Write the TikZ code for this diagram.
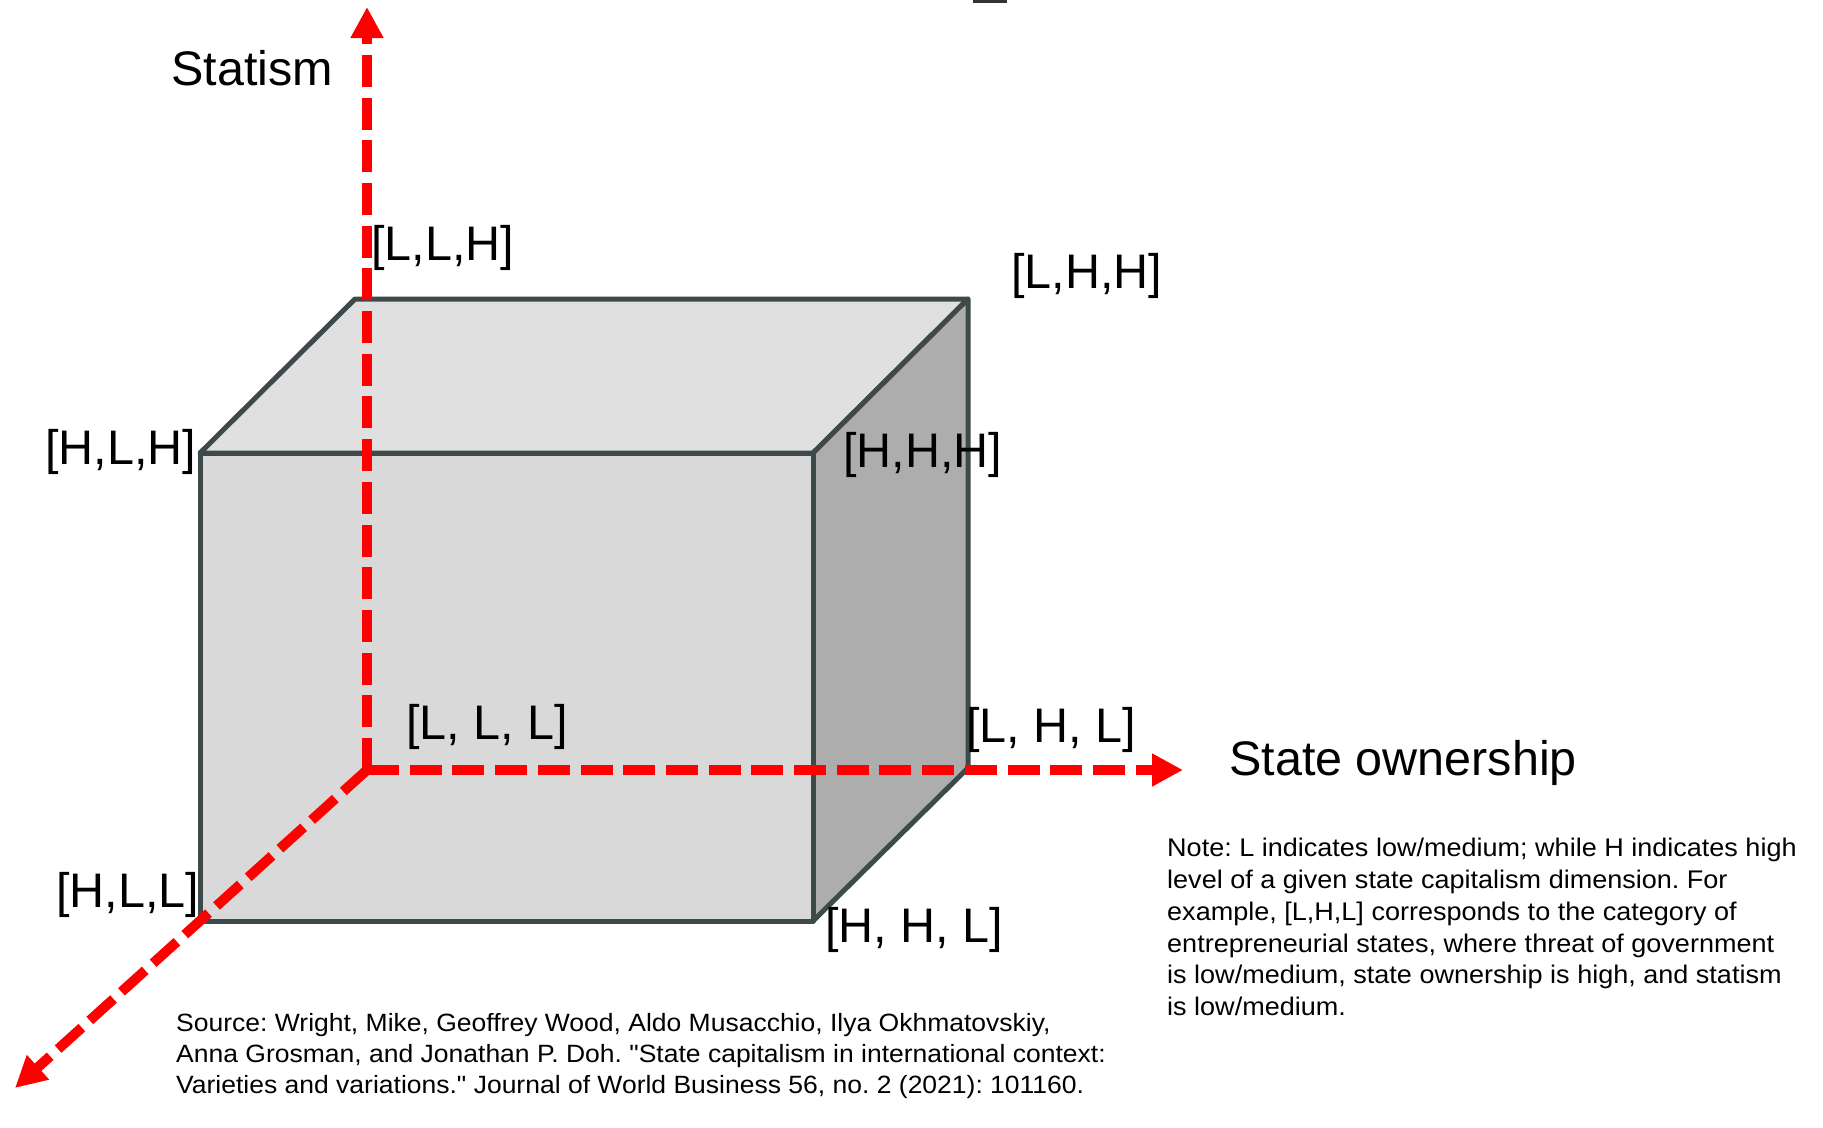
\documentclass[tikz,border=0pt]{standalone}
\usepackage{fontspec}
\setmainfont{Liberation Sans}
\newfontfamily\notefont[FakeStretch=1.06]{Liberation Sans}
\usetikzlibrary{arrows.meta}
\definecolor{edgegray}{HTML}{3E4A4A}
\definecolor{frontgray}{HTML}{D9D9D9}
\definecolor{topgray}{HTML}{E0E0E0}
\definecolor{sidegray}{HTML}{ADADAD}
\definecolor{axisred}{HTML}{FF0000}
\frenchspacing

\begin{document}
\begin{tikzpicture}[x=1pt,y=-1pt,
  face/.style={draw=edgegray, line width=5pt, line join=round},
  axis/.style={draw=axisred, line width=10pt, dash pattern=on 32pt off 10.7pt,
    -{Triangle[length=31pt,width=31pt]}},
  corner/.style={inner sep=0pt, anchor=base west, font=\fontsize{48.5}{58}\selectfont},
  axislabel/.style={inner sep=0pt, anchor=base west, font=\fontsize{48.5}{58}\selectfont},
  textblock/.style={inner sep=0pt, anchor=north west, align=left}
]
\useasboundingbox (0,0) rectangle (1823,1127);
\fill[white] (0,0) rectangle (1823,1127);

% small mark at the top edge
\fill[black!80] (973,0) rectangle (1007,2.5);

% cube corners
\coordinate (ftl) at (200,453);
\coordinate (ftr) at (813,453);
\coordinate (fbr) at (813,921);
\coordinate (fbl) at (200,921);
\coordinate (btl) at (355,299);
\coordinate (btr) at (968,299);
\coordinate (bbr) at (968,768);

% cube faces
\filldraw[face, fill=topgray] (ftl) -- (btl) -- (btr) -- (ftr) -- cycle;
\filldraw[face, fill=sidegray] (ftr) -- (btr) -- (bbr) -- (fbr) -- cycle;
\filldraw[face, fill=frontgray] (ftl) -- (ftr) -- (fbr) -- (fbl) -- cycle;

% axes
\coordinate (origin) at (367,770);
\coordinate (ztip) at (367,7);
\coordinate (ytip) at (1183,770);
\coordinate (xtip) at (15,1088);
\draw[axis] (origin) -- (ztip);
\draw[axis] (origin) -- (ytip);
\draw[axis] (origin) -- (xtip);

% axis titles
\node[axislabel] (statism) at (171,85) {Statism};
\node[axislabel] (ownership) at (1229,775) {State ownership};

% corner labels
\node[corner] (llh) at (371,260) {[L,L,H]};
\node[corner] (lhh) at (1011,288) {[L,H,H]};
\node[corner] (hlh) at (45,464) {[H,L,H]};
\node[corner] (hhh) at (843,467) {[H,H,H]};
\node[corner] (lll) at (406,739) {[L, L, L]};
\node[corner] (lhl) at (966,742) {[L, H, L]};
\node[corner] (hll) at (56,907) {[H,L,L]};
\node[corner] (hhl) at (825,942) {[H, H, L]};

% note and source
\node[textblock, font=\notefont\fontsize{25.5}{31.8}\selectfont] (note) at (1167,838)
  {Note: L indicates low/medium; while H indicates high\\
   level of a given state capitalism dimension. For\\
   example, [L,H,L] corresponds to the category of\\
   entrepreneurial states, where threat of government\\
   is low/medium, state ownership is high, and statism\\
   is low/medium.};
\node[textblock, font=\notefont\fontsize{25}{31}\selectfont] (source) at (176,1013)
  {Source: Wright, Mike, Geoffrey Wood, Aldo Musacchio, Ilya Okhmatovskiy,\\
   Anna Grosman, and Jonathan P. Doh. "State capitalism in international context:\\
   Varieties and variations." Journal of World Business 56, no. 2 (2021): 101160.};
\end{tikzpicture}
\end{document}
